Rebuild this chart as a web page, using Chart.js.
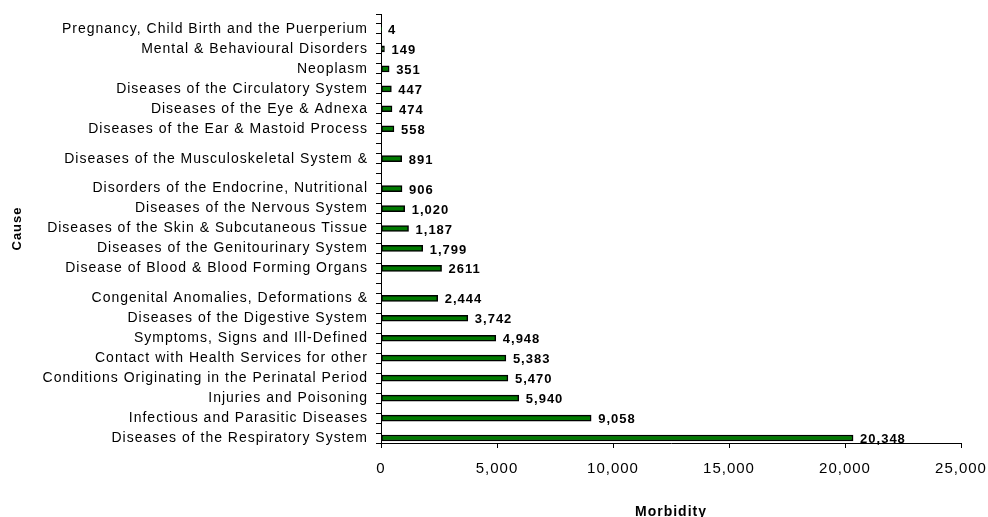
<!DOCTYPE html>
<html>
<head>
<meta charset="utf-8">
<script src="https://cdn.jsdelivr.net/npm/chart.js@4"></script>
<style>
  html, body { margin: 0; padding: 0; background: #fff; }
  #wrap { width: 988px; height: 517px; }
</style>
</head>
<body>
<div id="wrap"><canvas id="c" width="988" height="517"></canvas></div>
<script>
// Categories listed bottom-to-top as in the source sheet (blank rows are empty categories)
const categories = [
  'Diseases of the Respiratory System', '',
  'Infectious and Parasitic Diseases', '',
  'Injuries and Poisoning', '',
  'Conditions Originating in the Perinatal Period', '',
  'Contact with Health Services for other', '',
  'Symptoms, Signs and Ill-Defined', '',
  'Diseases of the Digestive System', '',
  'Congenital Anomalies, Deformations &', '', '',
  'Disease of Blood & Blood Forming Organs', '',
  'Diseases of the Genitourinary System', '',
  'Diseases of the Skin & Subcutaneous Tissue', '',
  'Diseases of the Nervous System', '',
  'Disorders of the Endocrine, Nutritional', '', '',
  'Diseases of the Musculoskeletal System &', '', '',
  'Diseases of the Ear & Mastoid Process', '',
  'Diseases of the Eye & Adnexa', '',
  'Diseases of the Circulatory System', '',
  'Neoplasm', '',
  'Mental & Behavioural Disorders', '',
  'Pregnancy, Child Birth and the Puerperium', ''
];
const morbidity = [
  20348, null,
  9058, null,
  5940, null,
  5470, null,
  5383, null,
  4948, null,
  3742, null,
  2444, null, null,
  2611, null,
  1799, null,
  1187, null,
  1020, null,
  906, null, null,
  891, null, null,
  558, null,
  474, null,
  447, null,
  351, null,
  149, null,
  4, null
];
const valueLabels = [
  '20,348', '',
  '9,058', '',
  '5,940', '',
  '5,470', '',
  '5,383', '',
  '4,948', '',
  '3,742', '',
  '2,444', '', '',
  '2611', '',
  '1,799', '',
  '1,187', '',
  '1,020', '',
  '906', '', '',
  '891', '', '',
  '558', '',
  '474', '',
  '447', '',
  '351', '',
  '149', '',
  '4', ''
];
const xTicks = [0, 5000, 10000, 15000, 20000, 25000];
const xTitle = 'Morbidity';
const yTitle = 'Cause';

const FONT = '"Liberation Sans", Arial, sans-serif';

const spacingPlugin = {
  id: 'spacing',
  beforeDraw(chart) { chart.ctx.letterSpacing = '1px'; }
};

const valueLabelPlugin = {
  id: 'valueLabels',
  afterDatasetsDraw(chart) {
    const ctx = chart.ctx;
    const meta = chart.getDatasetMeta(0);
    ctx.save();
    ctx.letterSpacing = '1px';
    ctx.font = 'bold 13px ' + FONT;
    ctx.fillStyle = '#000';
    ctx.textAlign = 'left';
    ctx.textBaseline = 'middle';
    meta.data.forEach((bar, i) => {
      if (morbidity[i] === null) return;
      ctx.fillText(valueLabels[i], bar.x + 7, bar.y + 1.5);
    });
    ctx.restore();
  }
};

new Chart(document.getElementById('c'), {
  type: 'bar',
  data: {
    labels: categories,
    datasets: [{
      data: morbidity,
      backgroundColor: '#007a00',
      borderColor: '#000',
      borderWidth: 1.5,
      borderSkipped: false,
      barThickness: 6
    }]
  },
  options: {
    indexAxis: 'y',
    responsive: false,
    animation: false,
    devicePixelRatio: 1,
    layout: { padding: { top: 14, right: 27, left: 0, bottom: 0 } },
    plugins: { legend: { display: false }, tooltip: { enabled: false } },
    scales: {
      x: {
        type: 'linear',
        min: 0, max: 25000,
        afterBuildTicks(scale) { scale.ticks = xTicks.map(v => ({ value: v })); },
        afterFit(scale) { scale.height = 74; scale.paddingRight = 0; scale.paddingLeft = 0; },
        ticks: {
          font: { family: FONT, size: 15 },
          color: '#000',
          padding: 12,
          maxRotation: 0,
          callback: v => Number(v).toLocaleString('en-US')
        },
        grid: { drawOnChartArea: false, drawTicks: true, tickLength: 5, color: '#000', lineWidth: 1 },
        border: { display: true, color: '#000', width: 1 },
        title: {
          display: true, text: xTitle, color: '#000',
          font: { family: FONT, size: 14, weight: 'bold' },
          padding: { top: 0, bottom: -4 }
        }
      },
      y: {
        type: 'category',
        reverse: true,
        offset: true,
        afterFit(scale) { scale.width = 381; scale.paddingTop = 0; scale.paddingBottom = 0; },
        ticks: {
          autoSkip: false,
          font: { family: FONT, size: 14 },
          color: '#000',
          padding: 8
        },
        grid: { offset: true, drawOnChartArea: false, drawTicks: true, tickLength: 5, color: '#000', lineWidth: 1 },
        border: { display: true, color: '#000', width: 1 },
        title: {
          display: true, text: yTitle, color: '#000',
          font: { family: FONT, size: 13, weight: 'bold' },
          padding: { top: 10, bottom: 0 }
        }
      }
    }
  },
  plugins: [spacingPlugin, valueLabelPlugin]
});
</script>
</body>
</html>
